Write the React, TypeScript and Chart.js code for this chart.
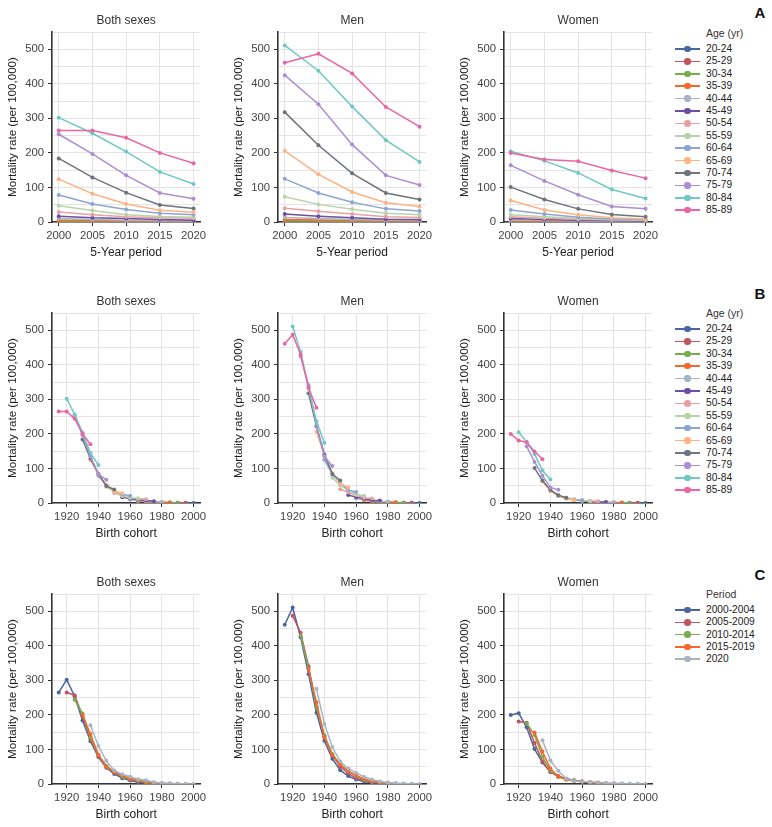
import React, { useEffect, useRef } from 'react';
import { Chart, registerables } from 'chart.js';

Chart.register(...registerables);

const FONT = "'Liberation Sans', Arial, Roboto, sans-serif";

// ---------- data ----------
const ageGroups = ['20-24', '25-29', '30-34', '35-39', '40-44', '45-49', '50-54', '55-59', '60-64', '65-69', '70-74', '75-79', '80-84', '85-89'];
const ageStarts = [20, 25, 30, 35, 40, 45, 50, 55, 60, 65, 70, 75, 80, 85];
const periodYears = [2000, 2005, 2010, 2015, 2020];
const periodLabels = ['2000-2004', '2005-2009', '2010-2014', '2015-2019', '2020'];
const periodTicks = [2000, 2005, 2010, 2015, 2020];
const cohortTicks = [1920, 1940, 1960, 1980, 2000];
const yTickValues = [0, 50, 100, 150, 200, 250, 300, 350, 400, 450, 500, 550];
const sexTitles = ['Both sexes', 'Men', 'Women'];

const ageColors = ['#4A66A0', '#C05460', '#78AD4F', '#F5672A', '#A8B3C3', '#6B4FA0', '#E6A1A6', '#B7D4A8', '#8CA6D2', '#FDB383', '#6E737C', '#AA8FD3', '#6FC8C3', '#EA65A2'];
const periodColors = ['#4A66A0', '#C05460', '#78AD4F', '#F5672A', '#A8B3C3'];

// rows: age groups, columns: periods 2000, 2005, 2010, 2015, 2020
const bothSexesRates = [
  [0.6, 0.5, 0.4, 0.3, 0.3],
  [1.2, 1.0, 0.8, 0.6, 0.5],
  [2.5, 2.0, 1.6, 1.2, 1.0],
  [5, 4, 3, 2.2, 1.8],
  [10, 7, 5, 3.5, 3],
  [17, 12, 10, 7, 5],
  [29, 21, 15, 12, 11],
  [47, 33, 21, 16, 14],
  [78, 52, 36, 25, 21],
  [124, 82, 52, 34, 28],
  [184, 129, 85, 49, 39],
  [254, 197, 135, 84, 67],
  [302, 257, 204, 145, 110],
  [265, 265, 244, 200, 170],
];
const menRates = [
  [0.8, 0.6, 0.5, 0.4, 0.3],
  [1.6, 1.3, 1.0, 0.8, 0.7],
  [3.5, 2.8, 2.2, 1.6, 1.3],
  [7, 5.5, 4, 3, 2.5],
  [13, 10, 7, 5, 4],
  [23, 17, 12, 8, 7],
  [40, 31, 23, 15, 13],
  [73, 51, 37, 25, 21],
  [125, 84, 57, 38, 32],
  [206, 138, 87, 56, 45],
  [318, 222, 141, 84, 65],
  [425, 341, 224, 135, 107],
  [511, 438, 334, 237, 174],
  [461, 487, 430, 333, 276],
];
const womenRates = [
  [0.4, 0.3, 0.3, 0.2, 0.2],
  [0.8, 0.6, 0.5, 0.4, 0.4],
  [1.5, 1.2, 1.0, 0.8, 0.7],
  [3, 2.4, 1.8, 1.4, 1.2],
  [6, 4.5, 3.2, 2.4, 2],
  [10, 7, 5, 3.5, 3],
  [15, 11, 8, 6, 5],
  [21, 15, 10, 7, 6],
  [35, 23, 14, 9, 7],
  [62, 35, 21, 12, 9],
  [101, 65, 38, 22, 15],
  [164, 119, 79, 45, 38],
  [205, 177, 142, 94, 68],
  [200, 181, 176, 149, 127],
];
const sexRates = [bothSexesRates, menRates, womenRates];

// ---------- dataset builders ----------
function styleFor(color: string, order: number) {
  return {
    borderColor: color,
    backgroundColor: color,
    pointBackgroundColor: color,
    pointBorderColor: color,
    borderWidth: 1.5,
    pointRadius: 2,
    pointBorderWidth: 0,
    pointHoverRadius: 2,
    tension: 0,
    order,
  };
}

function periodDatasets(rates: number[][]) {
  return ageGroups.map((g, i) => ({
    label: g,
    data: periodYears.map((p, j) => ({ x: p, y: rates[i][j] })),
    ...styleFor(ageColors[i], ageGroups.length - i),
  }));
}

function cohortByAgeDatasets(rates: number[][]) {
  return ageGroups.map((g, i) => ({
    label: g,
    data: periodYears.map((p, j) => ({ x: p - ageStarts[i], y: rates[i][j] })),
    ...styleFor(ageColors[i], ageGroups.length - i),
  }));
}

function cohortByPeriodDatasets(rates: number[][]) {
  return periodLabels.map((lab, j) => ({
    label: lab,
    data: ageStarts
      .map((a, i) => ({ x: periodYears[j] - a, y: rates[i][j] }))
      .sort((u, v) => u.x - v.x),
    ...styleFor(periodColors[j], periodLabels.length - j),
  }));
}

// title centred over the plot area
const panelTitlePlugin = {
  id: 'panelTitle',
  afterDraw(chart: any, _args: any, opts: any) {
    const { ctx, chartArea } = chart;
    ctx.save();
    ctx.font = `normal 12px ${FONT}`;
    ctx.fillStyle = '#333';
    ctx.textAlign = 'center';
    ctx.textBaseline = 'middle';
    ctx.fillText(opts.text, (chartArea.left + chartArea.right) / 2, chartArea.top - 11.5);
    ctx.restore();
  },
};

// ---------- panel ----------
const PANEL_W = 210;
const PANEL_H = 263;

type PanelProps = {
  left: number;
  top: number;
  title: string;
  xTitle: string;
  xMin: number;
  xMax: number;
  xTicks: number[];
  datasets: any[];
};

function Panel({ left, top, title, xTitle, xMin, xMax, xTicks, datasets }: PanelProps) {
  const ref = useRef<HTMLCanvasElement | null>(null);
  useEffect(() => {
    if (!ref.current) return;
    const tickFont = { family: FONT, size: 11.3 };
    const grid = '#e4e4e4';
    const axis = '#333333';
    const chart = new Chart(ref.current, {
      type: 'line',
      data: { datasets },
      plugins: [panelTitlePlugin],
      options: {
        animation: false,
        responsive: false,
        maintainAspectRatio: false,
        layout: { padding: { left: 0, right: 8, top: 32, bottom: 0 } },
        plugins: {
          legend: { display: false },
          tooltip: { enabled: false },
          title: { display: false },
          panelTitle: { text: title },
        },
        scales: {
          x: {
            type: 'linear',
            min: xMin,
            max: xMax,
            afterBuildTicks: (s: any) => {
              s.ticks = xTicks.map((v) => ({ value: v }));
            },
            afterFit: (s: any) => {
              s.height = 41;
            },
            grid: { color: grid, lineWidth: 1, drawTicks: true, tickLength: 4, tickColor: axis, tickWidth: 1 },
            border: { display: true, color: axis, width: 1.6 },
            ticks: {
              font: tickFont,
              color: '#444',
              padding: 3.5,
              maxRotation: 0,
              autoSkip: false,
              callback: (v: any) => String(v),
            },
            title: {
              display: true,
              text: xTitle,
              color: '#222',
              font: { family: FONT, size: 12 },
              padding: { top: 0, bottom: 3 },
            },
          },
          y: {
            type: 'linear',
            min: 0,
            max: 550,
            afterBuildTicks: (s: any) => {
              s.ticks = yTickValues.map((v) => ({ value: v }));
            },
            afterFit: (s: any) => {
              s.width = 52;
            },
            grid: {
              color: grid,
              lineWidth: 1,
              drawTicks: true,
              tickLength: 4,
              tickWidth: 1,
              tickColor: (ctx: any) => (ctx.tick && ctx.tick.value % 100 === 0 ? axis : 'rgba(0,0,0,0)'),
            },
            border: { display: true, color: axis, width: 1.6 },
            ticks: {
              font: tickFont,
              color: '#444',
              padding: 4,
              autoSkip: false,
              callback: (v: any) => (Number(v) % 100 === 0 ? String(v) : ''),
            },
            title: {
              display: true,
              text: 'Mortality rate (per 100,000)',
              color: '#222',
              font: { family: FONT, size: 11.6 },
              padding: { top: 6, bottom: 0 },
            },
          },
        },
      } as any,
    });
    return () => chart.destroy();
  }, []);
  return (
    <canvas
      ref={ref}
      width={PANEL_W}
      height={PANEL_H}
      style={{ position: 'absolute', left, top, width: PANEL_W, height: PANEL_H }}
    />
  );
}

// ---------- legend ----------
function Legend({ top, title, labels, colors }: { top: number; title: string; labels: string[]; colors: string[] }) {
  const step = labels.length > 5 ? 12.4 : 12.25;
  const txt = {
    position: 'absolute' as const,
    left: 706,
    fontFamily: FONT,
    lineHeight: '14px',
    color: '#222',
    whiteSpace: 'nowrap' as const,
  };
  return (
    <div style={{ position: 'absolute', left: 0, top: 0 }}>
      <div style={{ ...txt, top: top - 7, fontSize: 10.5, color: '#333' }}>{title}</div>
      {labels.map((lab, i) => {
        const cy = top + 16 + i * step;
        return (
          <div key={lab} style={{ position: 'absolute', left: 0, top: 0 }}>
            <div style={{ position: 'absolute', left: 675, top: cy - 0.75, width: 25, height: 1.5, background: colors[i] }} />
            <div
              style={{
                position: 'absolute',
                left: 684.25,
                top: cy - 3.25,
                width: 6.5,
                height: 6.5,
                borderRadius: '50%',
                background: colors[i],
              }}
            />
            <div style={{ ...txt, top: cy - 7, fontSize: 10.2 }}>{lab}</div>
          </div>
        );
      })}
    </div>
  );
}

function PanelLetter({ top, text }: { top: number; text: string }) {
  return (
    <div
      style={{
        position: 'absolute',
        left: 752,
        top: top - 10,
        width: 16,
        textAlign: 'center',
        fontFamily: FONT,
        fontWeight: 'bold',
        fontSize: 15,
        lineHeight: '20px',
        color: '#111',
      }}
    >
      {text}
    </div>
  );
}

const rowTops = [0, 281, 562];
const colLefts = [0, 226, 452];

export default function App() {
  return (
    <div style={{ position: 'absolute', left: 0, top: 0, width: 772, height: 827, background: '#fff', overflow: 'hidden' }}>
      {sexRates.map((rates, c) => (
        <Panel
          key={'a' + c}
          left={colLefts[c]}
          top={rowTops[0]}
          title={sexTitles[c]}
          xTitle="5-Year period"
          xMin={1999}
          xMax={2021}
          xTicks={periodTicks}
          datasets={periodDatasets(rates)}
        />
      ))}
      {sexRates.map((rates, c) => (
        <Panel
          key={'b' + c}
          left={colLefts[c]}
          top={rowTops[1]}
          title={sexTitles[c]}
          xTitle="Birth cohort"
          xMin={1910.75}
          xMax={2004.25}
          xTicks={cohortTicks}
          datasets={cohortByAgeDatasets(rates)}
        />
      ))}
      {sexRates.map((rates, c) => (
        <Panel
          key={'c' + c}
          left={colLefts[c]}
          top={rowTops[2]}
          title={sexTitles[c]}
          xTitle="Birth cohort"
          xMin={1910.75}
          xMax={2004.25}
          xTicks={cohortTicks}
          datasets={cohortByPeriodDatasets(rates)}
        />
      ))}
      <Legend top={33} title="Age (yr)" labels={ageGroups} colors={ageColors} />
      <Legend top={313} title="Age (yr)" labels={ageGroups} colors={ageColors} />
      <Legend top={594} title="Period" labels={periodLabels} colors={periodColors} />
      <PanelLetter top={13} text="A" />
      <PanelLetter top={294} text="B" />
      <PanelLetter top={575} text="C" />
    </div>
  );
}
